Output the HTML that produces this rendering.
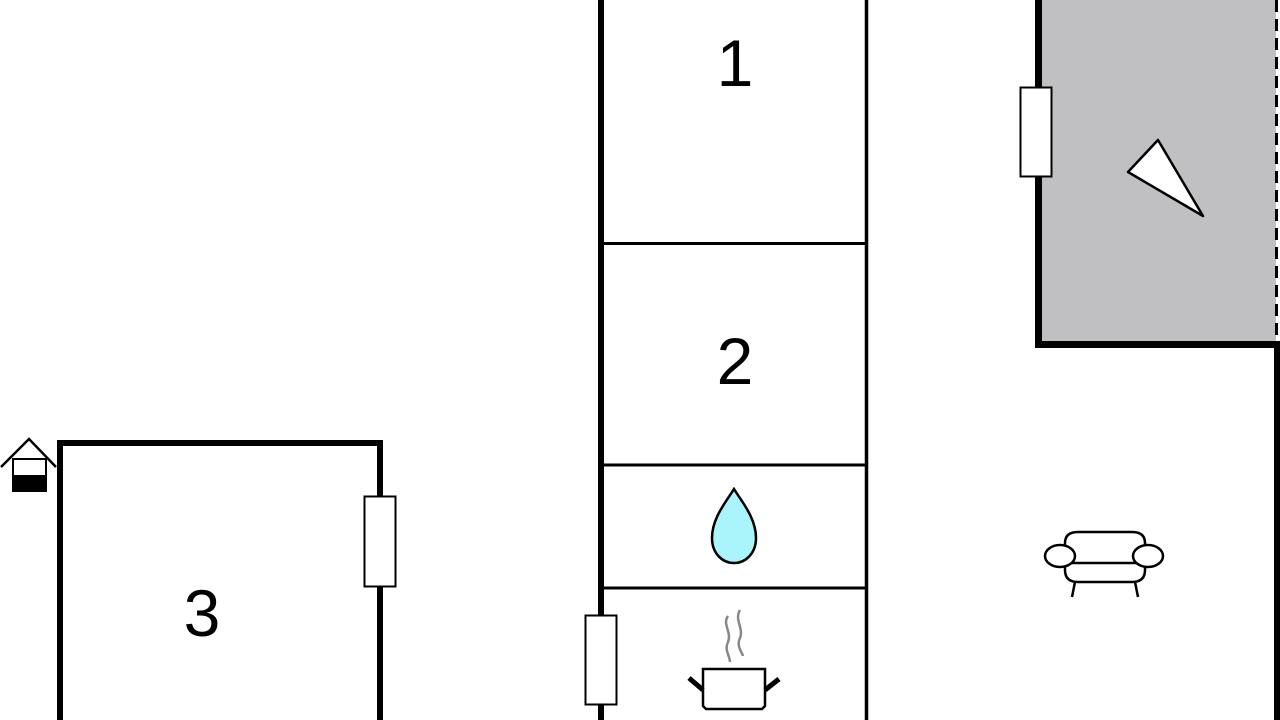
<!DOCTYPE html>
<html><head><style>html,body{margin:0;padding:0;background:#fff;}svg{display:block}</style></head>
<body>
<svg width="1280" height="720" viewBox="0 0 1280 720" xmlns="http://www.w3.org/2000/svg">
<rect x="0" y="0" width="1280" height="720" fill="#fff"/>
<!-- gray room -->
<rect x="1038" y="-5" width="238" height="349" fill="#c0c0c2"/>
<path d="M1038.5 0 V344.5 H1276" stroke="#000" stroke-width="7" fill="none"/>
<line x1="1276.5" y1="0" x2="1276.5" y2="342" stroke="#000" stroke-width="3" stroke-dasharray="12,7"/>
<line x1="1277" y1="341" x2="1277" y2="720" stroke="#000" stroke-width="6"/>
<rect x="1020.5" y="87.5" width="31" height="89" fill="#fff" stroke="#000" stroke-width="2"/>
<polygon points="1128,172 1158,140 1203,216" fill="#fff" stroke="#000" stroke-width="2.5" stroke-linejoin="round"/>
<!-- central column -->
<line x1="601" y1="0" x2="601" y2="720" stroke="#000" stroke-width="6"/>
<line x1="866.5" y1="0" x2="866.5" y2="720" stroke="#000" stroke-width="3.5"/>
<line x1="601" y1="243.5" x2="866" y2="243.5" stroke="#000" stroke-width="3"/>
<line x1="601" y1="465" x2="866" y2="465" stroke="#000" stroke-width="3"/>
<line x1="601" y1="588" x2="866" y2="588" stroke="#000" stroke-width="3"/>
<rect x="585.5" y="615.5" width="31" height="89" fill="#fff" stroke="#000" stroke-width="2"/>
<text x="735" y="86" font-family="Liberation Sans, sans-serif" font-size="66" text-anchor="middle">1</text>
<text x="735" y="384" font-family="Liberation Sans, sans-serif" font-size="66" text-anchor="middle">2</text>
<path d="M734 489 C742 502 756 518 756 538 C756 553 746 563 734 563 C722 563 712 553 712 538 C712 518 726 502 734 489 Z" fill="#aaf4fb" stroke="#000" stroke-width="2.5"/>
<!-- pot -->
<path d="M728 616 C722 624 732 632 728 642 C724 650 730 656 730 662" stroke="#888" stroke-width="2.5" fill="none"/>
<path d="M740 610 C734 620 744 628 740 638 C736 646 742 652 743 656" stroke="#888" stroke-width="2.5" fill="none"/>
<path d="M703 669 H765 V706 L762 709 H706 L703 706 Z" fill="#fff" stroke="#000" stroke-width="2.5"/>
<line x1="689" y1="678" x2="703" y2="690" stroke="#000" stroke-width="5"/>
<line x1="765" y1="690" x2="779" y2="679" stroke="#000" stroke-width="5"/>
<!-- room 3 -->
<path d="M60 720 V443 H380 V720" stroke="#000" stroke-width="6" fill="none"/>
<rect x="364.5" y="496.5" width="31" height="90" fill="#fff" stroke="#000" stroke-width="2"/>
<text x="202" y="636" font-family="Liberation Sans, sans-serif" font-size="66" text-anchor="middle">3</text>
<!-- well icon -->
<path d="M1 467 L29 439 L56 467" stroke="#000" stroke-width="2.5" fill="none"/>
<rect x="13" y="459" width="33" height="32" fill="#fff" stroke="#000" stroke-width="2"/>
<rect x="13" y="475" width="33" height="16" fill="#000"/>
<!-- sofa -->
<g stroke="#000" stroke-width="2.5" fill="#fff">
<path d="M1065 551 V543 Q1065 532 1078 532 H1132 Q1145 532 1145 543 V551"/>
<path d="M1065 558 V570 Q1065 582 1078 582 H1132 Q1145 582 1145 570 V558"/>
<line x1="1075" y1="582" x2="1072" y2="597"/>
<line x1="1135" y1="582" x2="1138" y2="597"/>
<line x1="1072" y1="563" x2="1138" y2="563"/>
<ellipse cx="1060" cy="556" rx="15" ry="11"/>
<ellipse cx="1148" cy="556" rx="15" ry="11"/>
</g>
</svg>
</body></html>
